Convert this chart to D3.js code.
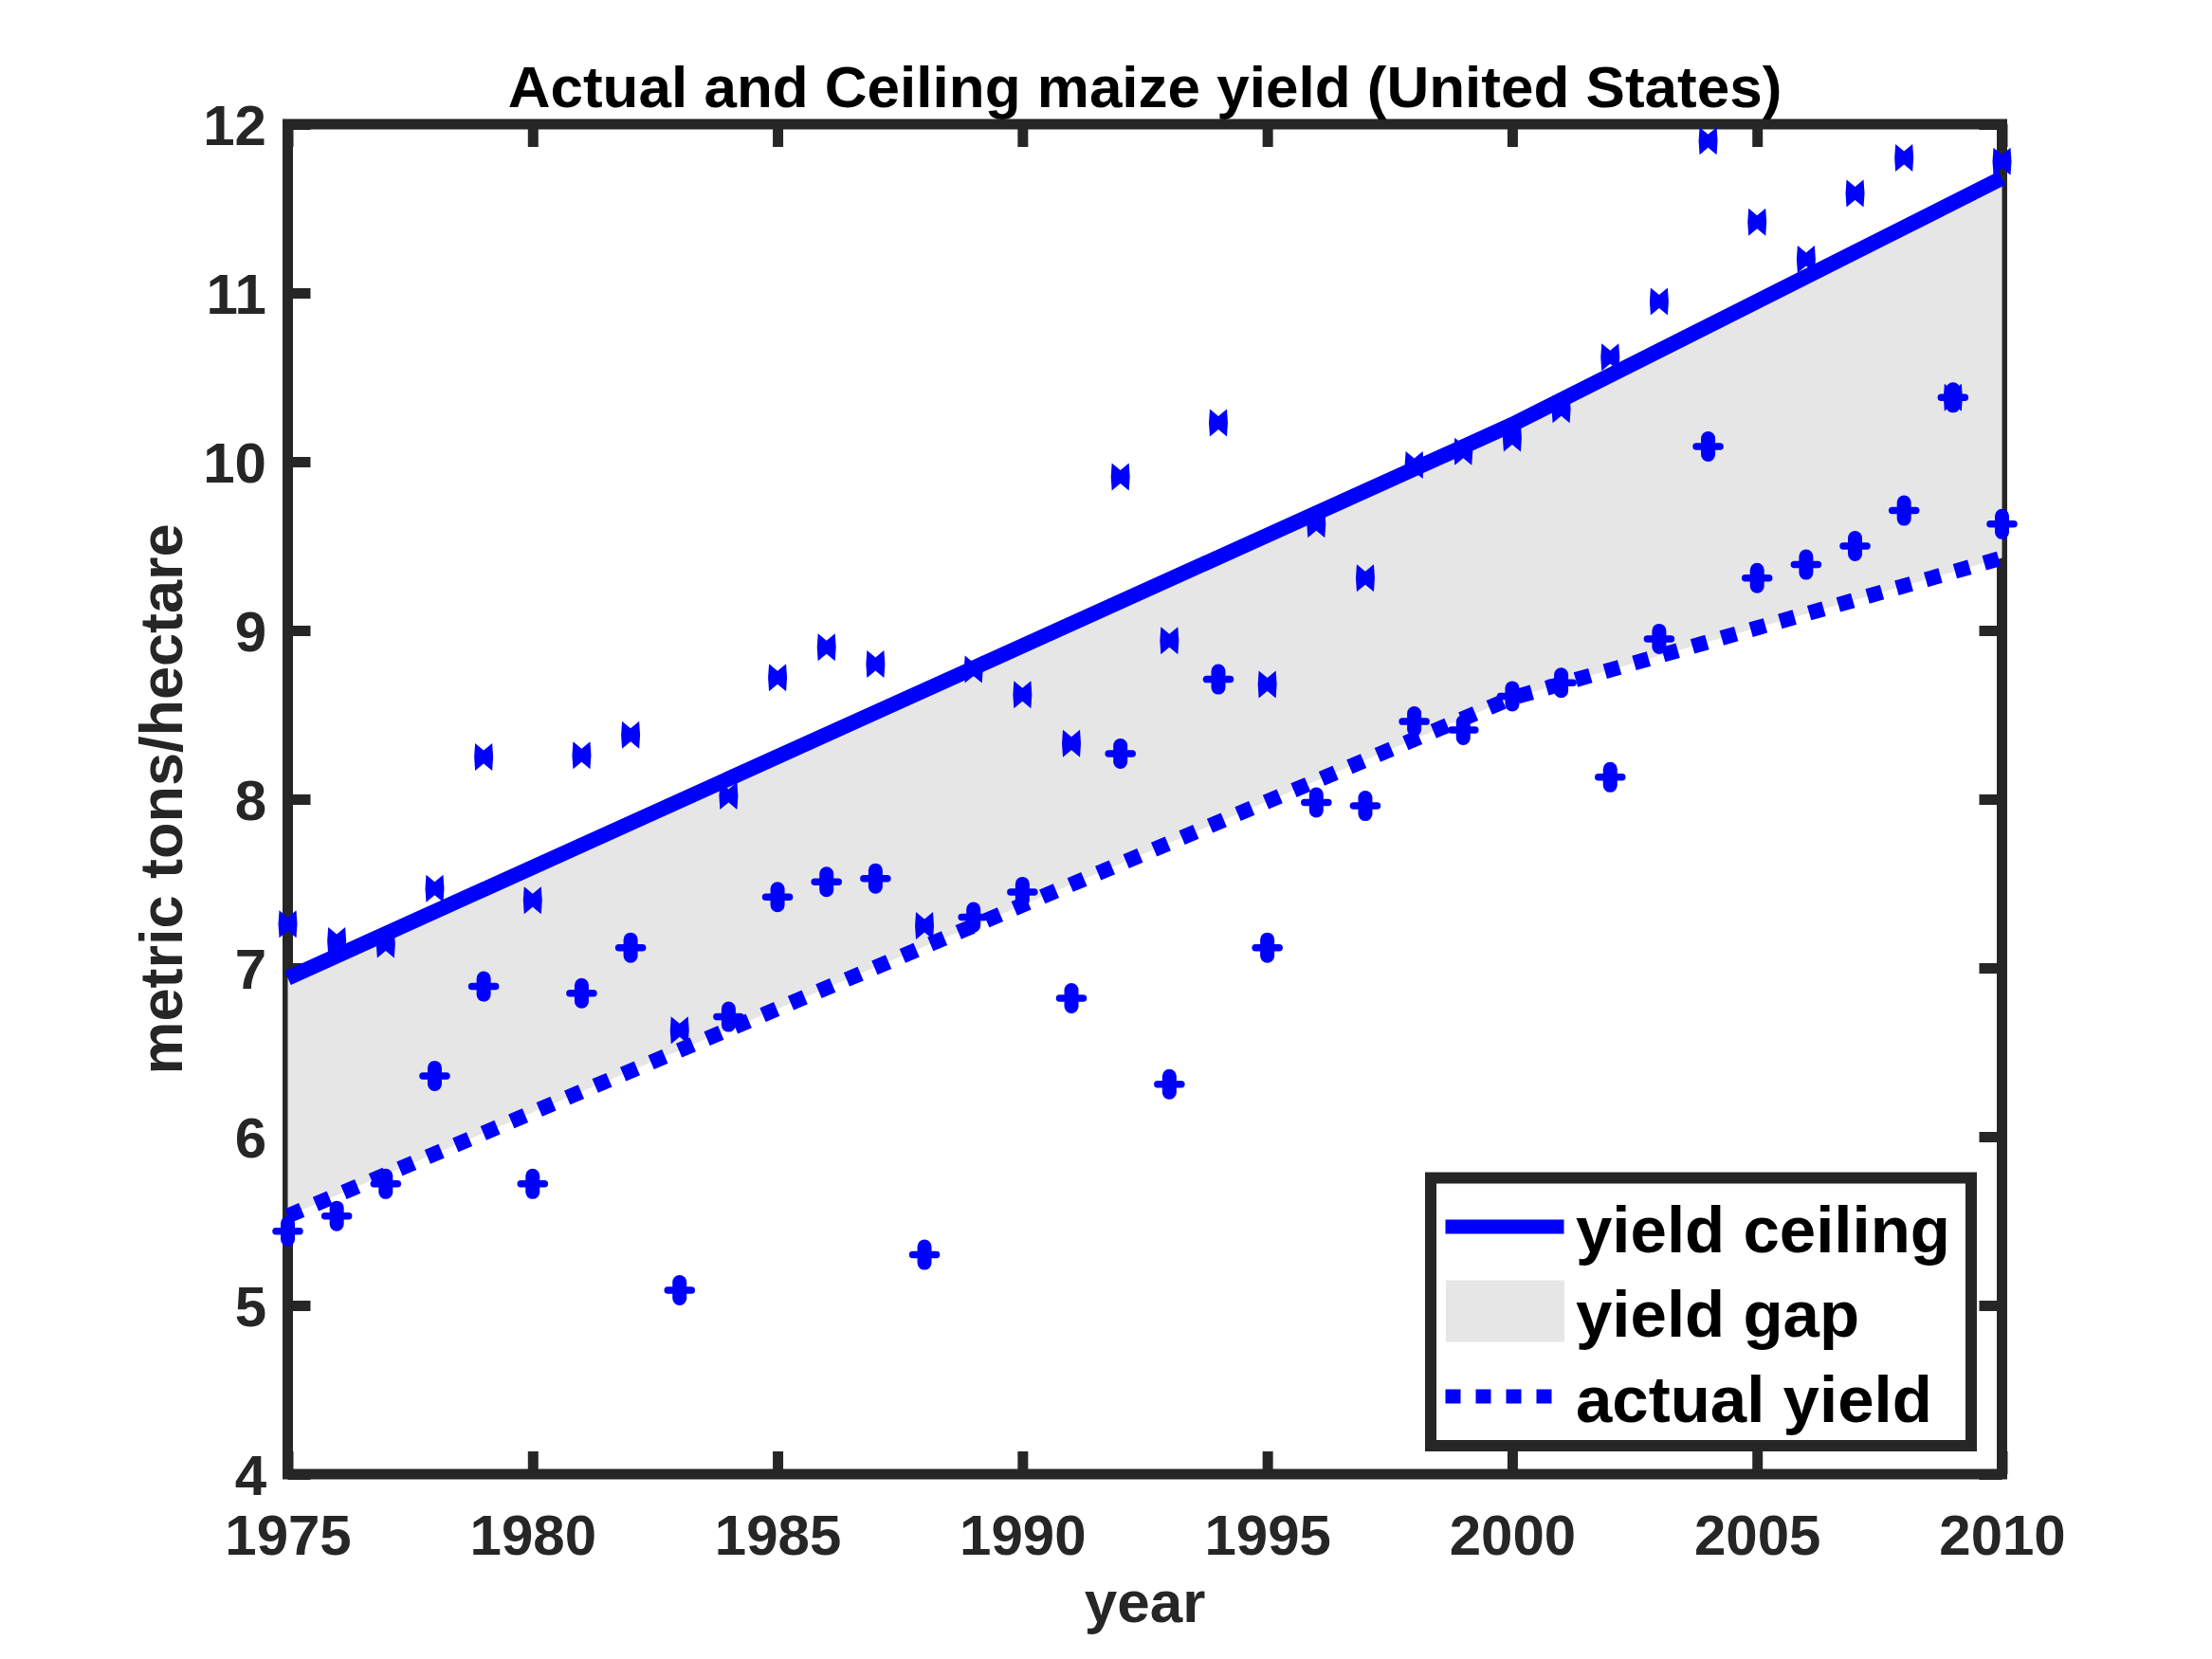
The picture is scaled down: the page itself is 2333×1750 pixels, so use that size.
<!DOCTYPE html>
<html>
<head>
<meta charset="utf-8">
<script src="https://cdn.jsdelivr.net/npm/d3@7"></script>
<style>
  html, body { margin: 0; padding: 0; background: #fff; }
  svg { display: block; }
  text { font-family: "Liberation Sans", Arial, Helvetica, sans-serif; font-weight: bold; }
</style>
</head>
<body>
<svg id="chart" width="2333" height="1750"></svg>
<script>
// ---- data ----
const years = [1975,1976,1977,1978,1979,1980,1981,1982,1983,1984,1985,1986,1987,1988,1989,1990,1991,1992,
               1993,1994,1995,1996,1997,1998,1999,2000,2001,2002,2003,2004,2005,2006,2007,2008,2009,2010];
const ceilingPoints = [7.26,7.16,7.14,7.47,8.25,7.40,8.26,8.38,6.63,8.02,8.72,8.90,8.80,7.25,8.77,8.62,8.33,9.91,
                       8.94,10.23,8.68,9.63,9.31,9.98,10.06,10.14,10.31,10.62,10.95,11.90,11.42,11.20,11.59,11.80,10.38,11.78];
const actualPoints = [5.44,5.53,5.72,6.36,6.89,5.72,6.85,7.12,5.09,6.71,7.42,7.51,7.53,5.30,7.30,7.45,6.82,8.27,
                      6.31,8.71,7.12,7.98,7.96,8.46,8.41,8.61,8.69,8.13,8.95,10.09,9.31,9.39,9.50,9.71,10.38,9.63];
const trendYears = [1975, 2000, 2010];
const ceilingTrend = [6.94, 10.22, 11.68];
const actualTrend = [5.53, 8.60, 9.43];
const xTicks = [1975,1980,1985,1990,1995,2000,2005,2010];
const yTicks = [4,5,6,7,8,9,10,11,12];
const titleText = "Actual and Ceiling maize yield (United States)";
const xLabel = "year";
const yLabel = "metric tons/hectare";
const legendLabels = ["yield ceiling", "yield gap", "actual yield"];

(function () {
// ---- layout ----
const L = 303.5, R = 2111.5, T = 131, B = 1555;
const axisColor = "#262626";
const blue = "#0000ff";
const gapFill = "#e6e6e6";

const svg = d3.select("#chart");
svg.append("rect").attr("width", 2333).attr("height", 1750).attr("fill", "#fff");

const x = d3.scaleLinear().domain([1975, 2010]).range([L, R]);
const y = d3.scaleLinear().domain([4, 12]).range([B, T]);

// ---- axes (drawn beneath the data, like MATLAB layer=bottom) ----
const axG = svg.append("g");
function styleAxis(g) {
  g.select(".domain").remove();
  g.selectAll(".tick line").attr("stroke", axisColor).attr("stroke-width", 11);
  g.selectAll(".tick text").attr("fill", axisColor).attr("font-size", 60)
    .attr("font-family", '"Liberation Sans", Arial, Helvetica, sans-serif').attr("font-weight", "bold");
}
const axBottom = axG.append("g").attr("transform", `translate(0,${B})`)
  .call(d3.axisBottom(x).tickValues(xTicks).tickFormat(d3.format("d")).tickSizeInner(-24).tickSizeOuter(0).tickPadding(0));
styleAxis(axBottom);
axBottom.selectAll(".tick text").attr("y", 85).attr("dy", 0);

const axTop = axG.append("g").attr("transform", `translate(0,${T})`)
  .call(d3.axisTop(x).tickValues(xTicks).tickFormat("").tickSizeInner(-24).tickSizeOuter(0));
styleAxis(axTop);

const axLeft = axG.append("g").attr("transform", `translate(${L},0)`)
  .call(d3.axisLeft(y).tickValues(yTicks).tickFormat(d3.format("d")).tickSizeInner(-24).tickSizeOuter(0).tickPadding(22.5));
styleAxis(axLeft);
axLeft.selectAll(".tick text").attr("dy", "0.36em");

const axRight = axG.append("g").attr("transform", `translate(${R},0)`)
  .call(d3.axisRight(y).tickValues(yTicks).tickFormat("").tickSizeInner(-24).tickSizeOuter(0));
styleAxis(axRight);

axG.append("rect").attr("x", L).attr("y", T).attr("width", R - L).attr("height", B - T)
  .attr("fill", "none").attr("stroke", axisColor).attr("stroke-width", 11);

// ---- yield gap area ----
const trend = trendYears.map((yr, i) => ({ yr, c: ceilingTrend[i], a: actualTrend[i] }));
svg.append("path").datum(trend)
  .attr("d", d3.area().x(d => x(d.yr)).y0(d => y(d.a)).y1(d => y(d.c)))
  .attr("fill", gapFill);

// ---- trend lines ----
svg.append("path").datum(trend)
  .attr("d", d3.line().x(d => x(d.yr)).y(d => y(d.c)))
  .attr("fill", "none").attr("stroke", blue).attr("stroke-width", 16).attr("stroke-linejoin", "miter");
svg.append("path").datum(trend)
  .attr("d", d3.line().x(d => x(d.yr)).y(d => y(d.a)))
  .attr("fill", "none").attr("stroke", blue).attr("stroke-width", 16).attr("stroke-dasharray", "16,16");

// ---- markers ----
const ceilShape = "M-9,-14.5 L0,-7 L9,-14.5 L10,0 L9,14.5 L0,7 L-9,14.5 L-10,0 Z";
const pts = years.map((yr, i) => ({ yr, c: ceilingPoints[i], a: actualPoints[i] }));
svg.append("g").selectAll("path").data(pts).join("path")
  .attr("d", ceilShape)
  .attr("transform", d => `translate(${x(d.yr)},${y(d.c)})`)
  .attr("fill", blue);

const plusG = svg.append("g").selectAll("g").data(pts).join("g")
  .attr("transform", d => `translate(${x(d.yr)},${y(d.a)})`);
plusG.append("line").attr("x1", 0).attr("x2", 0).attr("y1", -8.5).attr("y2", 8.5)
  .attr("stroke", blue).attr("stroke-width", 15).attr("stroke-linecap", "round");
plusG.append("line").attr("x1", -12.5).attr("x2", 12.5).attr("y1", 0).attr("y2", 0)
  .attr("stroke", blue).attr("stroke-width", 7.5).attr("stroke-linecap", "round");

// ---- title and axis labels ----
svg.append("text").attr("x", (L + R) / 2).attr("y", 113).attr("text-anchor", "middle")
  .attr("font-size", 62).attr("fill", "#000").text(titleText);
svg.append("text").attr("x", (L + R) / 2).attr("y", 1711).attr("text-anchor", "middle")
  .attr("font-size", 62).attr("fill", axisColor).text(xLabel);
svg.append("text").attr("transform", `translate(192,${(T + B) / 2}) rotate(-90)`).attr("text-anchor", "middle")
  .attr("font-size", 63).attr("fill", axisColor).text(yLabel);

// ---- legend ----
const lg = svg.append("g");
lg.append("rect").attr("x", 1509).attr("y", 1242.5).attr("width", 570).attr("height", 282.5)
  .attr("fill", "#fff").attr("stroke", axisColor).attr("stroke-width", 12);
const rowY = [1294, 1383, 1473];
lg.append("line").attr("x1", 1524.5).attr("x2", 1649.5).attr("y1", rowY[0]).attr("y2", rowY[0])
  .attr("stroke", blue).attr("stroke-width", 15);
lg.append("rect").attr("x", 1525).attr("y", rowY[1] - 32.5).attr("width", 125).attr("height", 65)
  .attr("fill", gapFill);
lg.append("line").attr("x1", 1524.5).attr("x2", 1640).attr("y1", rowY[2]).attr("y2", rowY[2])
  .attr("stroke", blue).attr("stroke-width", 15).attr("stroke-dasharray", "16,16");
lg.selectAll("text.leg").data(legendLabels).join("text").attr("class", "leg")
  .attr("x", 1662).attr("y", (d, i) => rowY[i] + 26.5)
  .attr("font-size", 69).attr("fill", "#000").text(d => d);
})();
</script>
</body>
</html>
